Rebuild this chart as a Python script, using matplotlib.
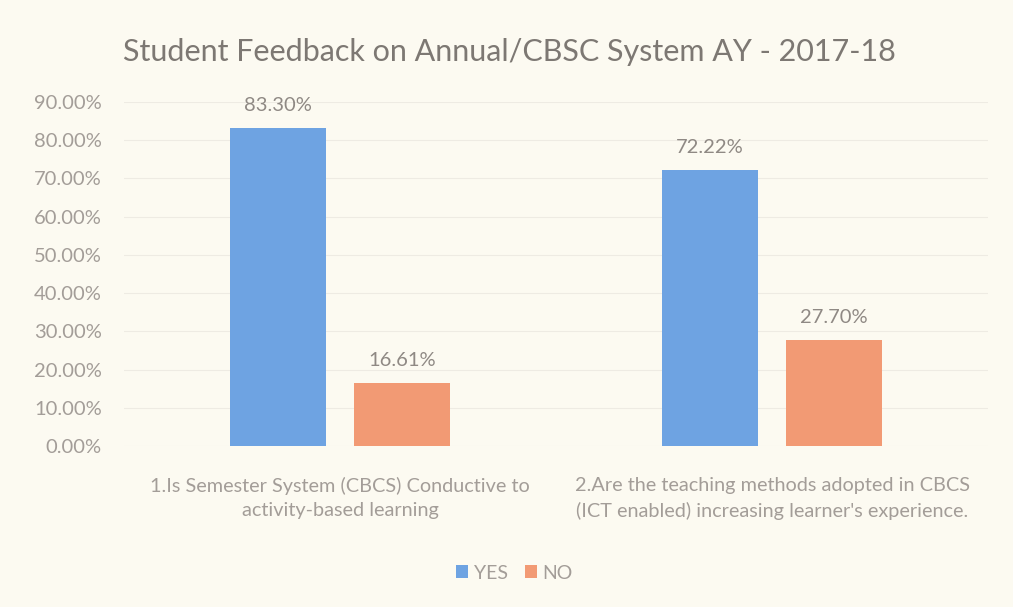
import numpy as np
import matplotlib.pyplot as plt

categories = ["1.Is Semester System (CBCS) Conductive to\nactivity-based learning",
              "2.Are the teaching methods adopted in CBCS\n(ICT enabled) increasing learner's experience."]
yes_vals = [83.30, 72.22]
no_vals = [16.61, 27.70]
yes_labels = ["83.30%", "72.22%"]
no_labels = ["16.61%", "27.70%"]

plt.rcParams["font.family"] = ["Lato", "DejaVu Sans"]
bg = "#fcfaf1"
txt = "#a39d98"
blue = "#6ea3e2"
orange = "#f29a74"

fig = plt.figure(figsize=(10.13, 6.07), dpi=100, facecolor=bg)
ax = fig.add_axes([0.1224, 0.265, 0.853, 0.567], facecolor=bg)

x = np.arange(len(categories))
w = 0.222
off = 0.144
b1 = ax.bar(x - off, yes_vals, w, color=blue, label="YES")
b2 = ax.bar(x + off, no_vals, w, color=orange, label="NO")

for bars, labs in [(b1, yes_labels), (b2, no_labels)]:
    for b, lab in zip(bars, labs):
        ax.text(b.get_x() + b.get_width() / 2, b.get_height() + 3.6, lab,
                ha="center", va="bottom", fontsize=14.5, color="#8f8984")

ax.set_xlim(-0.5, 1.5)
ax.set_ylim(0, 90)
ax.set_yticks(np.arange(0, 91, 10))
ax.set_yticklabels([f"{v:.2f}%" for v in np.arange(0, 91, 10)])
ax.set_xticks(x)
ax.set_xticklabels(categories, linespacing=1.55)
ax.tick_params(axis="y", length=0, labelsize=14.5, labelcolor=txt, pad=16)
ax.tick_params(axis="x", length=0, labelsize=14.3, labelcolor=txt, pad=22)
ax.grid(axis="y", color="#eeebe3", linewidth=0.8)
ax.set_axisbelow(True)
for s in ax.spines.values():
    s.set_visible(False)

fig.text(0.503, 0.915, "Student Feedback on Annual/CBSC System AY - 2017-18",
         ha="center", va="center", fontsize=22, color="#7d7873")

fig.legend(loc="center", bbox_to_anchor=(0.508, 0.056), ncol=2, frameon=False,
           fontsize=14, labelcolor=txt, handlelength=0.6, handleheight=0.6,
           handletextpad=0.3, columnspacing=0.9)

fig.savefig("out.png", dpi=100, facecolor=bg)
